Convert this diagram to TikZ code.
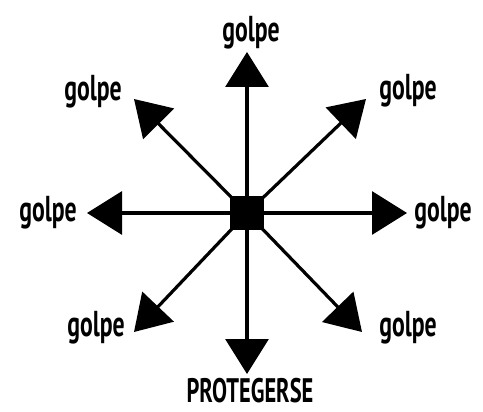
\documentclass[tikz,border=0pt]{standalone}
\usepackage{fontspec}
\newfontfamily\lbl[FakeStretch=0.66]{PT Sans}
\usetikzlibrary{arrows.meta}
\begin{document}
\begin{tikzpicture}[x=1pt,y=-1pt,
  spoke/.style={line width=3.2pt,-{Triangle[length=35pt,width=43pt]}},
  lab/.style={font=\lbl\bfseries\fontsize{36}{36}\selectfont,anchor=base,inner sep=0pt}]
\useasboundingbox (0,0) rectangle (483,412);
\node[fill=black,minimum size=34pt,inner sep=0pt] (c) at (247,213) {};
\coordinate (tN) at (247,52);
\coordinate (tS) at (247,374);
\coordinate (tW) at (87,213);
\coordinate (tE) at (407,213);
\coordinate (tNW) at (134,99);
\coordinate (tNE) at (366,99);
\coordinate (tSW) at (134,332);
\coordinate (tSE) at (362,332);
\foreach \t in {tN,tS,tW,tE,tNW,tNE,tSW,tSE}
  \draw[spoke] (c.center) -- (\t);
\node[lab] (lN) at (251,42) {golpe};
\node[lab] (lNW) at (93,101) {golpe};
\node[lab] (lNE) at (408,100) {golpe};
\node[lab] (lW) at (48,222) {golpe};
\node[lab] (lE) at (443,222) {golpe};
\node[lab] (lSW) at (96,336) {golpe};
\node[lab] (lSE) at (408,336) {golpe};
\node[lab,font=\lbl\bfseries\fontsize{34}{34}\selectfont] (lS) at (250,402) {PROTEGERSE};
\end{tikzpicture}
\end{document}
